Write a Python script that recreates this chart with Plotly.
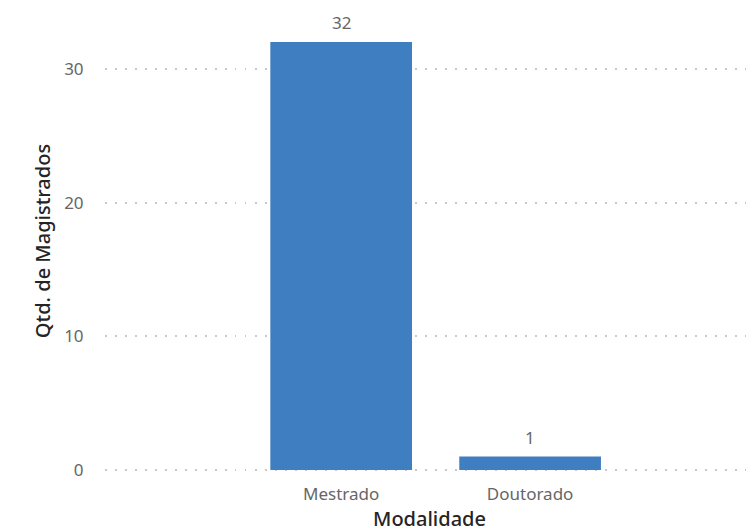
import plotly.graph_objects as go

categorias = ["Mestrado", "Doutorado"]
valores = [32, 1]
y_ticks = [0, 10, 20, 30]

fig = go.Figure()
fig.add_trace(go.Bar(
    x=categorias, y=valores,
    marker=dict(color="#407EC2", line=dict(width=0)),
    width=0.75,
    cliponaxis=False,
))
for c, v in zip(categorias, valores):
    fig.add_annotation(x=c, y=v, text=str(v), showarrow=False, yanchor="bottom",
                       yshift=6, font=dict(family="Noto Sans", size=17, color="#666666"))

fig.update_layout(
    width=754, height=532,
    margin=dict(l=97, r=8, t=2, b=68),
    paper_bgcolor="white", plot_bgcolor="white",
    showlegend=False,
)
fig.update_xaxes(
    range=[-1.25, 2.185], automargin=False,
    showgrid=False, zeroline=False, showline=False,
    ticks="outside", ticklen=7, tickcolor="rgba(0,0,0,0)",
    tickfont=dict(family="Noto Sans", size=17, color="#666666"),
    title=dict(text="Modalidade", font=dict(family="Noto Sans", size=20, color="#252423", weight=500), standoff=4),
)
fig.update_yaxes(
    range=[-0.15, 34.4], automargin=False,
    tickvals=y_ticks,
    showgrid=True, gridcolor="#C8C8C8", griddash="1.5px,8.5px", gridwidth=1.5,
    zeroline=False, showline=False,
    ticks="outside", ticklen=17, tickcolor="rgba(0,0,0,0)",
    tickfont=dict(family="Noto Sans", size=17, color="#666666"),
    title=dict(text="Qtd. de Magistrados", font=dict(family="Noto Sans", size=20, color="#252423", weight=500), standoff=8),
)

fig.write_html("out.html")
